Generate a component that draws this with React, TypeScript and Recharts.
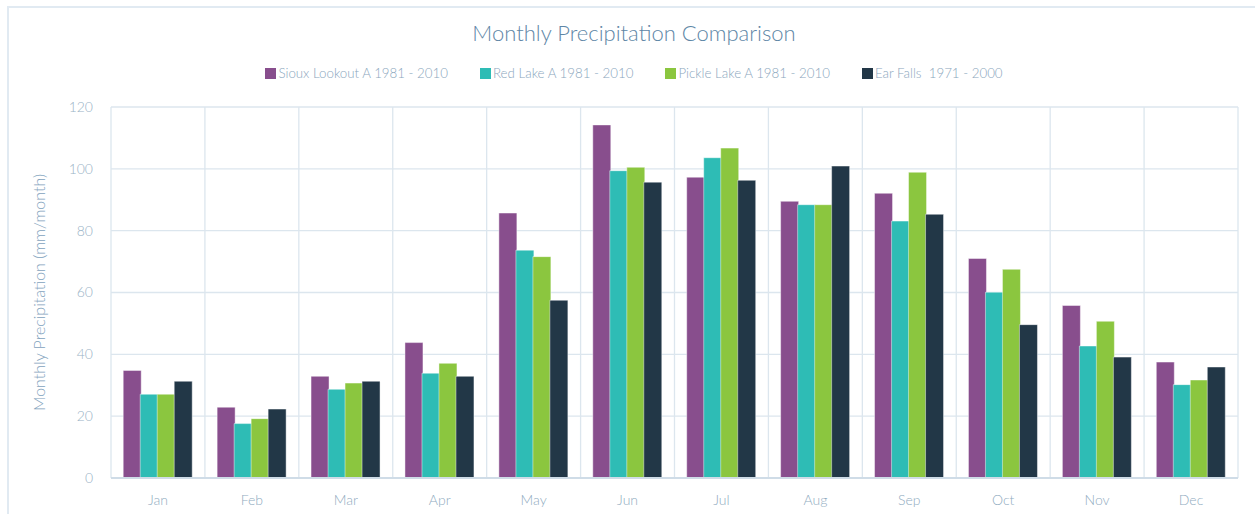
import React from "react";
import {
  BarChart,
  Bar,
  XAxis,
  YAxis,
  CartesianGrid,
} from "recharts";

const months = ["Jan", "Feb", "Mar", "Apr", "May", "Jun", "Jul", "Aug", "Sep", "Oct", "Nov", "Dec"];
const siouxLookout = [34.8, 22.9, 32.9, 43.8, 85.7, 114.2, 97.3, 89.5, 92.1, 71.0, 55.8, 37.5];
const redLake = [27.1, 17.6, 28.7, 33.9, 73.7, 99.4, 103.6, 88.4, 83.1, 60.1, 42.7, 30.2];
const pickleLake = [27.1, 19.2, 30.7, 37.1, 71.6, 100.5, 106.7, 88.4, 98.9, 67.5, 50.7, 31.7];
const earFalls = [31.3, 22.3, 31.3, 32.9, 57.5, 95.7, 96.3, 100.9, 85.3, 49.6, 39.1, 35.9];
const yTicks = [0, 20, 40, 60, 80, 100, 120];

const series = [
  { key: "sioux", name: "Sioux Lookout A 1981 - 2010", color: "#884e8d" },
  { key: "red", name: "Red Lake A 1981 - 2010", color: "#2ebcb5" },
  { key: "pickle", name: "Pickle Lake A 1981 - 2010", color: "#8bc63f" },
  { key: "ear", name: "Ear Falls  1971 - 2000", color: "#223747" },
];

const data = months.map((m, i) => ({
  month: m,
  sioux: siouxLookout[i],
  red: redLake[i],
  pickle: pickleLake[i],
  ear: earFalls[i],
}));

const FONT = "Lato, 'Open Sans', sans-serif";

// grid lines sit on the category boundaries, not on the tick centres
const boundaryLines = ({ offset }: any) =>
  Array.from({ length: months.length + 1 }, (_, i) => offset.left + (i * offset.width) / months.length);

export default function App() {
  return (
    <div
      style={{
        position: "absolute",
        left: 7,
        top: 6,
        width: 1262,
        height: 520,
        border: "2px solid #e1eaf2",
        boxSizing: "border-box",
        background: "#fff",
      }}
    >
      <div
        style={{
          position: "absolute",
          left: 0,
          width: 1250,
          top: 11,
          textAlign: "center",
          fontFamily: FONT,
          fontWeight: 300,
          fontSize: 22,
          color: "#5e86a6",
        }}
      >
        Monthly Precipitation Comparison
      </div>
      <div
        style={{
          position: "absolute",
          left: 0,
          width: 1250,
          top: 57,
          display: "flex",
          justifyContent: "center",
          gap: 32,
          fontFamily: FONT,
          fontWeight: 300,
          fontSize: 13.3,
          color: "#8aa6bd",
        }}
      >
        {series.map((s) => (
          <div key={s.key} style={{ display: "flex", alignItems: "center" }}>
            <span style={{ display: "inline-block", width: 11, height: 11, background: s.color, marginRight: 2 }} />
            <span style={{ whiteSpace: "pre" }}>{s.name}</span>
          </div>
        ))}
      </div>
      <BarChart
        width={1250}
        height={510}
        data={data}
        margin={{ top: 99, right: 21, bottom: 10, left: 0 }}
        barCategoryGap="13%"
        barGap={-1}
      >
        <CartesianGrid stroke="#dce6ee" strokeWidth={1.3} verticalCoordinatesGenerator={boundaryLines} />
        <XAxis
          dataKey="month"
          axisLine={{ stroke: "#cfdce7", strokeWidth: 2 }}
          tickLine={false}
          tickMargin={11}
          height={30}
          tick={{ fill: "#8fabc0", fontSize: 14, fontFamily: FONT, fontWeight: 300 }}
        />
        <YAxis
          domain={[0, 120]}
          ticks={yTicks}
          width={102}
          axisLine={false}
          tickLine={false}
          tickMargin={12}
          tick={{ fill: "#9ab3c6", fontSize: 14, fontFamily: FONT, fontWeight: 300 }}
          label={{
            value: "Monthly Precipitation (mm/month)",
            angle: -90,
            position: "insideLeft",
            offset: 30,
            style: { textAnchor: "middle", fill: "#7fa2bd", fontSize: 16, fontFamily: FONT, fontWeight: 300 },
          }}
        />
        {series.map((s) => (
          <Bar
            key={s.key}
            dataKey={s.key}
            name={s.name}
            fill={s.color}
            stroke="rgba(255,255,255,0.45)"
            strokeWidth={1}
            isAnimationActive={false}
          />
        ))}
      </BarChart>
    </div>
  );
}
